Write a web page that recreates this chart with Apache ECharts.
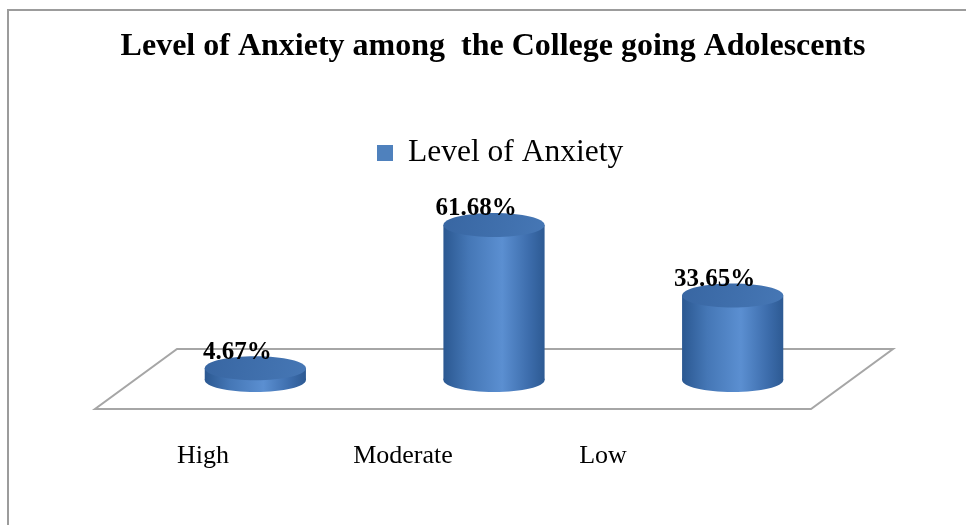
<!DOCTYPE html>
<html>
<head>
<meta charset="utf-8">
<script src="https://cdn.jsdelivr.net/npm/echarts@6/dist/echarts.min.js"></script>
<style>
  html, body { margin: 0; padding: 0; background: #fff; }
  #main { width: 966px; height: 525px; }
</style>
</head>
<body>
<div id="main"></div>
<script>
// chart data
var categories = ['High', 'Moderate', 'Low'];
var anxietyValues = [4.67, 61.68, 33.65];
var seriesName = 'Level of Anxiety';

var chart = echarts.init(document.getElementById('main'));
var FONT = '"Liberation Serif", "Times New Roman", serif';

function bodyFill() {
	return new echarts.graphic.LinearGradient(0, 0, 1, 0, [
		{ offset: 0, color: '#2b5891' },
		{ offset: 0.25, color: '#4577b6' },
		{ offset: 0.58, color: '#5b8fd1' },
		{ offset: 0.85, color: '#3c6cab' },
		{ offset: 1, color: '#2d5a93' }
	]);
}
function topFill() {
	return new echarts.graphic.LinearGradient(0, 0, 1, 1, [
		{ offset: 0, color: '#3866a2' },
		{ offset: 1, color: '#4677b5' }
	]);
}

// floor parallelogram, built from the grid rect and the zero line
function renderFloor(params, api) {
	var cs = params.coordSys;
	var y0 = api.coord([0, 0])[1];
	var dx = 41, back = 31, front = 29;
	return {
		type: 'polygon',
		shape: {
			points: [
				[cs.x + dx, y0 - back],
				[cs.x + cs.width + dx, y0 - back],
				[cs.x + cs.width - dx, y0 + front],
				[cs.x - dx, y0 + front]
			]
		},
		style: { fill: '#fff', stroke: '#a6a6a6', lineWidth: 2 }
	};
}

function renderCylinder(params, api) {
	var cat = api.value(0), val = api.value(1);
	var top = api.coord([cat, val]);
	var base = api.coord([cat, 0]);
	var rx = api.size([1, 0])[0] * 0.212;
	var ry = 12;
	var cx = top[0];
	return {
		type: 'group',
		children: [
			{ type: 'ellipse', shape: { cx: cx, cy: base[1], rx: rx, ry: ry }, style: { fill: bodyFill() } },
			{ type: 'rect', shape: { x: cx - rx, y: top[1], width: rx * 2, height: base[1] - top[1] }, style: { fill: bodyFill() } },
			{ type: 'ellipse', shape: { cx: cx, cy: top[1], rx: rx, ry: ry }, style: { fill: topFill() } },
			{
				type: 'text', x: cx - 18, y: top[1] - 16,
				style: {
					text: val.toFixed(2) + '%', fill: '#000',
					font: 'bold 25px ' + FONT, align: 'center', verticalAlign: 'middle'
				}
			}
		]
	};
}

var cylData = [];
for (var i = 0; i < categories.length; i++) {
	cylData.push([i, anxietyValues[i]]);
}

var option = {
	backgroundColor: '#fff',
	animation: false,
	title: {
		text: 'Level of Anxiety among  the College going Adolescents',
		left: 493,
		textAlign: 'center',
		top: 31,
		padding: 0,
		textStyle: { fontFamily: FONT, fontWeight: 'bold', fontSize: 32, color: '#000' }
	},
	legend: {
		data: [seriesName],
		left: 377,
		top: 137,
		padding: 0,
		icon: 'rect',
		itemWidth: 16,
		itemHeight: 16,
		itemGap: 15,
		textStyle: { fontFamily: FONT, fontSize: 31.5, color: '#000', padding: [0, 0, 0, 10] }
	},
	graphic: [{
		type: 'polyline',
		shape: { points: [[8, 525], [8, 10], [966, 10]] },
		style: { stroke: '#9c9c9c', lineWidth: 2, fill: null },
		silent: true
	}],
	grid: [
		{ left: 136, right: 114, top: 204, bottom: 145 },
		{ left: 103, right: 263, top: 300, bottom: 90 }
	],
	xAxis: [
		{ type: 'category', gridIndex: 0, data: categories, show: false },
		{
			type: 'category', gridIndex: 1, data: categories,
			axisLine: { show: false }, axisTick: { show: false },
			axisLabel: { margin: 8, fontFamily: FONT, fontSize: 26, color: '#000' }
		}
	],
	yAxis: [
		{ type: 'value', gridIndex: 0, min: 0, max: 70, show: false },
		{ type: 'value', gridIndex: 1, show: false }
	],
	series: [{
		name: 'floor',
		type: 'custom',
		xAxisIndex: 0, yAxisIndex: 0,
		z: 1,
		silent: true,
		renderItem: renderFloor,
		data: [[0, 0]]
	}, {
		name: seriesName,
		type: 'custom',
		xAxisIndex: 0, yAxisIndex: 0,
		z: 2,
		itemStyle: { color: '#4f81bd' },
		renderItem: renderCylinder,
		encode: { x: 0, y: 1 },
		data: cylData
	}]
};
chart.setOption(option);
</script>
</body>
</html>
